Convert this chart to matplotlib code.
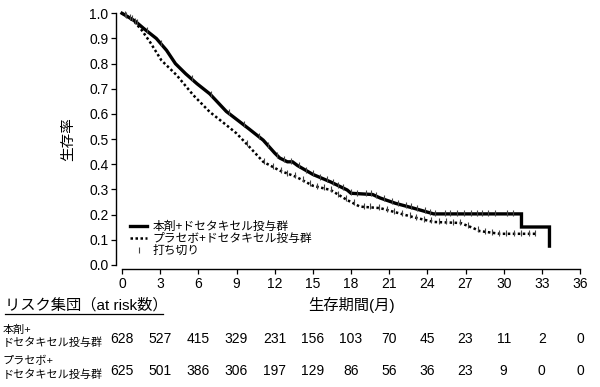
import numpy as np
import matplotlib
matplotlib.use("Agg")
import matplotlib.pyplot as plt
from matplotlib.lines import Line2D
import matplotlib.transforms as mtransforms

plt.rcParams['font.family'] = ['Liberation Sans', 'Noto Sans CJK JP', 'DejaVu Sans']

# ---- data ----
treat_t = [0, 0.5, 1.0, 1.7, 2.7, 3.5, 4.2, 5.0, 5.9, 6.9, 8.2, 9.1, 10.0, 11.1, 12.0, 12.4,
           13.0, 13.4, 13.8, 15.0, 16.4, 17.7, 18.0, 19.7, 20.3, 21.5, 22.9, 24.5, 31.4, 31.4,
           33.6, 33.6]
treat_s = [1.0, 0.985, 0.97, 0.94, 0.90, 0.853, 0.80, 0.76, 0.72, 0.68, 0.61, 0.575, 0.54,
           0.496, 0.445, 0.425, 0.41, 0.41, 0.395, 0.36, 0.33, 0.298, 0.285, 0.28, 0.266,
           0.245, 0.226, 0.203, 0.203, 0.151, 0.151, 0.075]
plac_t = [0, 0.5, 1.0, 1.55, 2.2, 3.1, 4.3, 5.6, 6.9, 8.2, 9.0, 10.0, 11.1, 12.4, 13.7,
          15.0, 16.4, 17.7, 18.7, 20.3, 22.9, 24.5, 26.6, 27.6, 28.1, 29.7, 32.6]
plac_s = [1.0, 0.985, 0.965, 0.933, 0.886, 0.813, 0.754, 0.675, 0.608, 0.556, 0.523, 0.47,
          0.41, 0.375, 0.35, 0.315, 0.298, 0.258, 0.232, 0.226, 0.19, 0.171, 0.167, 0.147,
          0.135, 0.124, 0.124]
treat_censor = [0.3, 0.8, 1.2, 2.0, 3.1, 5.5, 7.0, 8.4, 9.6, 10.8, 11.5, 12.2, 12.7, 13.3,
                13.9, 14.5, 15.0, 15.6, 16.1, 16.6, 17.0, 17.4, 18.0, 18.5, 19.2, 19.6, 20.0,
                20.6, 21.2, 21.7, 22.3, 22.7, 23.2, 23.8, 24.2, 24.6, 25.4, 25.8, 26.3, 26.9,
                27.4, 27.9, 28.3, 28.8, 29.3, 30.3, 30.7]
plac_censor = [0.2, 0.6, 1.0, 9.8, 11.2, 11.9, 12.5, 13.0, 13.6, 14.2, 14.8, 15.3, 15.9,
               16.4, 17.0, 17.6, 18.2, 19.0, 19.5, 20.2, 20.8, 21.4, 22.0, 22.6, 23.1, 23.7,
               24.3, 24.9, 25.5, 26.0, 26.6, 27.2, 28.0, 28.5, 29.1, 29.6, 30.2, 30.8, 31.4,
               32.0, 32.5]
risk_times = [0, 3, 6, 9, 12, 15, 18, 21, 24, 27, 30, 33, 36]
treat_risk = [628, 527, 415, 329, 231, 156, 103, 70, 45, 23, 11, 2, 0]
plac_risk = [625, 501, 386, 306, 197, 129, 86, 56, 36, 23, 9, 0, 0]

label_treat = "本剤+ドセタキセル投与群"
label_plac = "プラセボ+ドセタキセル投与群"
label_cens = "打ち切り"

W, H = 600, 387
fig = plt.figure(figsize=(6, 3.87), dpi=100)
ax = fig.add_axes([122 / W, 1 - 265 / H, (580 - 122) / W, (265 - 13.3) / H])
ax.set_xlim(0, 36)
ax.set_ylim(0, 1)

ax.plot(treat_t, treat_s, color='black', lw=2.4, solid_joinstyle='miter', clip_on=False)
ax.plot(plac_t, plac_s, color='black', lw=1.8, ls=(0, (1, 1)), clip_on=False)

def interp_curve(ts, ss, x):
    ts = np.asarray(ts); ss = np.asarray(ss)
    return np.interp(x, ts, ss)

tc = np.array(treat_censor)
pc = np.array(plac_censor)
ax.plot(tc, interp_curve(treat_t, treat_s, tc) + 0.004, ls='none', marker='|', ms=5,
        mew=0.8, color='#444444', clip_on=False)
ax.plot(pc, interp_curve(plac_t, plac_s, pc) + 0.004, ls='none', marker='|', ms=5,
        mew=0.8, color='#444444', clip_on=False)

for side in ['top', 'right']:
    ax.spines[side].set_visible(False)
ax.spines['left'].set_position(('outward', 4.3))
ax.spines['bottom'].set_position(('outward', 3))
ax.spines['left'].set_linewidth(1.0)
ax.spines['bottom'].set_linewidth(1.0)
ax.set_xticks(risk_times)
ax.set_yticks(np.arange(0, 1.01, 0.1))
ax.set_yticklabels([f"{v:.1f}" for v in np.arange(0, 1.01, 0.1)])
ax.tick_params(axis='both', direction='out', length=3.5, width=0.9, labelsize=10,
               colors='black', pad=2)
ax.set_ylabel("生存率", fontsize=10.5, labelpad=10)

handles = [Line2D([], [], color='black', lw=2.4),
           Line2D([], [], color='black', lw=1.8, ls=(0, (1, 1))),
           Line2D([], [], color='#444444', ls='none', marker='|', ms=5, mew=0.8)]
leg = ax.legend(handles, [label_treat, label_plac, label_cens], loc='lower left',
                bbox_to_anchor=(0.0, 0.0), frameon=False, fontsize=8.5,
                handlelength=1.4, handletextpad=0.5, labelspacing=0.0,
                borderaxespad=0.3)

# ---- risk table ----
fig.text(5 / W, 1 - 305 / H, "リスク集団（at risk数）", fontsize=11, va='center', ha='left')
fig.add_artist(Line2D([5 / W, 163 / W], [1 - 314 / H, 1 - 314 / H], color='black', lw=0.9))
fig.text(351 / W, 1 - 305 / H, "生存期間(月)", fontsize=11, va='center', ha='center')

fig.text(3 / W, 1 - 336 / H, "本剤+\nドセタキセル投与群", fontsize=8, va='center', ha='left',
         linespacing=1.3)
fig.text(3 / W, 1 - 368 / H, "プラセボ+\nドセタキセル投与群", fontsize=8, va='center', ha='left',
         linespacing=1.3)

trans = mtransforms.blended_transform_factory(ax.transData, fig.transFigure)
for t, n1, n2 in zip(risk_times, treat_risk, plac_risk):
    ax.text(t, 1 - 339 / H, str(n1), transform=trans, fontsize=10, ha='center', va='center')
    ax.text(t, 1 - 371 / H, str(n2), transform=trans, fontsize=10, ha='center', va='center')

fig.savefig("out.png", dpi=100)
